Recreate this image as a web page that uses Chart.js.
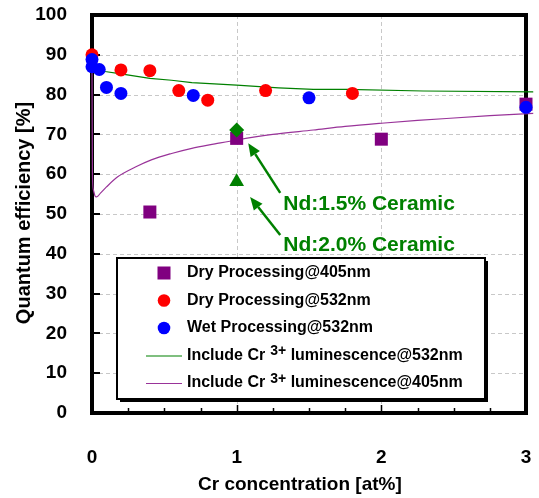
<!DOCTYPE html>
<html><head><meta charset="utf-8">
<script src="https://cdn.jsdelivr.net/npm/chart.js@4.4.1/dist/chart.umd.min.js"></script>
<style>html,body{margin:0;padding:0;background:#fff}#wrap{width:539px;height:498px;position:relative}</style>
</head><body><div id="wrap"><canvas id="c" width="539" height="498"></canvas></div>
<script>
// ---- data ----
const xTickValues = [0, 1, 2, 3];
const yTickValues = [0, 10, 20, 30, 40, 50, 60, 70, 80, 90, 100];

const dry405X = [0.4, 1, 2, 3];
const dry405Y = [50.5, 69, 68.8, 77.6];

const dry532X = [0, 0.2, 0.4, 0.6, 0.8, 1.2, 1.8];
const dry532Y = [90, 86.2, 86, 81, 78.6, 81, 80.3];

const wet532X = [0, 0, 0.05, 0.1, 0.2, 0.7, 1.5, 3];
const wet532Y = [88.8, 87, 86.3, 81.8, 80.3, 79.8, 79.2, 76.8];

const nd15X = [1];
const nd15Y = [71.1];
const nd20X = [1];
const nd20Y = [58.1];

const curve532X = [0, 0.09, 0.2, 0.4, 0.55, 0.69, 1.0, 1.29, 1.53, 1.76, 2.29, 3.05];
const curve532Y = [87.5, 85.8, 85.2, 84.1, 83.6, 83.0, 82.4, 81.7, 81.3, 81.3, 80.9, 80.7];

const curve405X = [0, 0.003, 0.01, 0.02, 0.032, 0.06, 0.1, 0.18, 0.3, 0.41, 0.55, 0.69, 0.85, 1.0, 1.25, 1.53, 1.75, 2.0, 2.25, 2.45, 2.75, 3.05];
const curve405Y = [87, 60, 56, 54.6, 54.3, 55.3, 56.8, 59.4, 61.8, 63.6, 65.2, 66.5, 67.6, 68.6, 70, 71.1, 72, 72.8, 73.5, 74, 74.7, 75.3];

const seriesLabels = ['Dry Processing@405nm', 'Dry Processing@532nm', 'Wet Processing@532nm',
  'Include Cr3+ luminescence@532nm', 'Include Cr3+ luminescence@405nm'];
const noteLabels = ['Nd:1.5% Ceramic', 'Nd:2.0% Ceramic'];
const xTitle = 'Cr concentration [at%]';
const yTitle = 'Quantum efficiency [%]';

// annotation anchors (data coordinates)
const noteText = [[1.322, 52.5], [1.322, 42.2]];
const noteArrowTail = [[1.301, 55.3], [1.301, 44.7]];
const noteArrowTip = [[1.080, 67.8], [1.093, 54.3]];

const pts = (xs, ys) => xs.map((x, i) => ({x, y: ys[i]}));
const FONT = '"Liberation Sans", Arial, sans-serif';
const GREEN = '#008000', PURPLE = '#800080';

const datasets = [
  {label: seriesLabels[0], data: pts(dry405X, dry405Y), pointStyle: 'rect', pointRadius: 9.2,
   backgroundColor: PURPLE, borderColor: PURPLE, borderWidth: 0, showLine: false, order: 3, clip: false, legend: true},
  {label: seriesLabels[1], data: pts(dry532X, dry532Y), pointStyle: 'circle', pointRadius: 6.5,
   backgroundColor: '#ff0000', borderColor: '#ff0000', borderWidth: 0, showLine: false, order: 2, clip: false, legend: true},
  {label: seriesLabels[2], data: pts(wet532X, wet532Y), pointStyle: 'circle', pointRadius: 6.5,
   backgroundColor: '#0000ff', borderColor: '#0000ff', borderWidth: 0, showLine: false, order: 1, clip: false, legend: true},
  {label: seriesLabels[3], data: pts(curve532X, curve532Y), pointRadius: 0, showLine: true,
   borderColor: GREEN, backgroundColor: GREEN, borderWidth: 1.2, order: 5, clip: false, legend: true},
  {label: seriesLabels[4], data: pts(curve405X, curve405Y), pointRadius: 0, showLine: true, cubicInterpolationMode: 'monotone',
   borderColor: '#993399', backgroundColor: '#993399', borderWidth: 1.2, order: 4, clip: false, legend: true},
  {label: 'Nd1.5', data: pts(nd15X, nd15Y), pointStyle: 'rectRot', pointRadius: 7.5,
   backgroundColor: GREEN, borderColor: GREEN, borderWidth: 0, showLine: false, order: 0, clip: false},
  {label: 'Nd2.0', data: pts(nd20X, nd20Y), pointStyle: 'triangle', pointRadius: 8.5,
   backgroundColor: GREEN, borderColor: GREEN, borderWidth: 0, showLine: false, order: 0, clip: false}
];

function seg(ctx, x1, y1, x2, y2) { ctx.beginPath(); ctx.moveTo(x1, y1); ctx.lineTo(x2, y2); ctx.stroke(); }

function drawLabel(ctx, text, x, y, size) {
  // renders "Cr3+" with raised 3+
  const m = text.indexOf('3+');
  ctx.textBaseline = 'middle'; ctx.textAlign = 'left';
  ctx.font = 'bold ' + size + 'px ' + FONT;
  if (m < 0) { ctx.fillText(text, x, y); return; }
  const a = text.slice(0, m), b = '3+', c = text.slice(m + 2);
  ctx.fillText(a, x, y); x += ctx.measureText(a).width + 5;
  ctx.font = 'bold ' + (size - 2) + 'px ' + FONT;
  ctx.fillText(b, x, y - 4); x += ctx.measureText(b).width;
  ctx.font = 'bold ' + size + 'px ' + FONT;
  ctx.fillText(c, x, y);
}

const deco = {
  id: 'deco',
  beforeDatasetsDraw(chart) {
    const {ctx, chartArea: a, scales: {x, y}} = chart;
    ctx.save();
    ctx.strokeStyle = '#c8c8c8'; ctx.lineWidth = 1; ctx.setLineDash([4, 3]);
    yTickValues.forEach(v => {
      if (v <= y.min || v >= y.max) return;
      const py = Math.round(y.getPixelForValue(v)) + 0.5;
      seg(ctx, a.left, py, a.right, py);
    });
    xTickValues.forEach(v => {
      if (v <= x.min || v >= x.max) return;
      const px = Math.round(x.getPixelForValue(v)) + 0.5;
      seg(ctx, px, a.top, px, a.bottom);
    });
    ctx.setLineDash([]);
    ctx.strokeStyle = '#000'; ctx.lineWidth = 2;
    yTickValues.forEach(v => {
      const py = Math.round(y.getPixelForValue(v));
      seg(ctx, a.left, py, a.left + 8, py);
    });
    ctx.lineWidth = 1.5;
    for (let k = 1; k < 12; k++) {
      const v = x.min + k * 0.25;
      const px = Math.round(x.getPixelForValue(v)) + 0.5;
      seg(ctx, px, a.bottom, px, a.bottom - (k % 4 === 0 ? 8 : 5));
    }
    ctx.lineWidth = 4;
    ctx.strokeRect(a.left, a.top, a.right - a.left, a.bottom - a.top);
    ctx.restore();
  },
  afterDatasetsDraw(chart) {
    const {ctx, scales: {x, y}} = chart;
    ctx.save();
    ctx.strokeStyle = GREEN; ctx.fillStyle = GREEN; ctx.lineWidth = 2.5;
    noteArrowTip.forEach((tip, i) => {
      const tx = x.getPixelForValue(tip[0]), ty = y.getPixelForValue(tip[1]);
      const sx = x.getPixelForValue(noteArrowTail[i][0]), sy = y.getPixelForValue(noteArrowTail[i][1]);
      const ang = Math.atan2(ty - sy, tx - sx), L = 13, W = 5.5;
      const bx = tx - L * Math.cos(ang), by = ty - L * Math.sin(ang);
      seg(ctx, sx, sy, bx, by);
      ctx.beginPath();
      ctx.moveTo(tx, ty);
      ctx.lineTo(bx + W * Math.sin(ang), by - W * Math.cos(ang));
      ctx.lineTo(bx - W * Math.sin(ang), by + W * Math.cos(ang));
      ctx.closePath(); ctx.fill();
    });
    ctx.font = 'bold 21px ' + FONT; ctx.textBaseline = 'middle'; ctx.textAlign = 'left';
    noteLabels.forEach((t, i) => {
      ctx.fillText(t, x.getPixelForValue(noteText[i][0]), y.getPixelForValue(noteText[i][1]));
    });
    ctx.restore();
  },
  afterDraw(chart) {
    const {ctx, chartArea: a} = chart;
    ctx.save();
    // axis titles
    ctx.fillStyle = '#000';
    ctx.font = 'bold 19px ' + FONT; ctx.textAlign = 'center'; ctx.textBaseline = 'middle';
    ctx.fillText(xTitle, a.left + (a.right - a.left) * 0.479, 485);
    ctx.save();
    ctx.translate(24, (a.top + a.bottom) / 2 - 1);
    ctx.rotate(-Math.PI / 2);
    ctx.font = 'bold 20px ' + FONT;
    ctx.fillText(yTitle, 0, 0);
    ctx.restore();
    // legend
    const bx = 117, by = 258, bw = 368, bh = 141;
    ctx.fillStyle = '#000'; ctx.fillRect(bx + 3, by + 3, bw, bh);
    ctx.fillStyle = '#fff'; ctx.fillRect(bx, by, bw, bh);
    ctx.strokeStyle = '#000'; ctx.lineWidth = 2; ctx.strokeRect(bx, by, bw, bh);
    const items = chart.data.datasets.filter(d => d.legend);
    items.forEach((d, i) => {
      const cy = by + 15 + i * 27.5;
      if (d.showLine) {
        ctx.strokeStyle = d.borderColor; ctx.lineWidth = 1.2;
        seg(ctx, 146, cy + 0.5, 182, cy + 0.5);
      } else {
        ctx.fillStyle = d.backgroundColor; ctx.strokeStyle = d.borderColor;
        Chart.helpers.drawPoint(ctx, {pointStyle: d.pointStyle, radius: d.pointStyle === 'rect' ? 9.2 : 6.3, rotation: 0, borderWidth: 0}, 164, cy);
      }
      ctx.fillStyle = '#000';
      drawLabel(ctx, d.label, 187, cy, 16);
    });
    ctx.restore();
  }
};

new Chart(document.getElementById('c'), {
  type: 'scatter',
  data: {datasets},
  options: {
    responsive: false, animation: false, events: [],
    layout: {padding: {top: 15, right: 13, left: 0, bottom: 0}},
    plugins: {legend: {display: false}, tooltip: {enabled: false}},
    scales: {
      x: {
        type: 'linear', min: 0, max: 3,
        afterFit(s) { s.height = 85; s.paddingLeft = 0; s.paddingRight = 0; },
        grid: {display: false}, border: {display: false},
        ticks: {stepSize: 1, padding: 25, color: '#000', font: {family: FONT, size: 19, weight: 'bold'},
                callback: v => xTickValues.includes(v) ? String(v) : ''}
      },
      y: {
        type: 'linear', min: 0, max: 100,
        afterFit(s) { s.width = 92; s.paddingTop = 0; s.paddingBottom = 0; },
        grid: {display: false}, border: {display: false},
        ticks: {stepSize: 10, padding: 17, color: '#000', font: {family: FONT, size: 19, weight: 'bold'},
                callback: v => yTickValues.includes(v) ? String(v) : ''}
      }
    }
  },
  plugins: [deco]
});
</script>
</body></html>
